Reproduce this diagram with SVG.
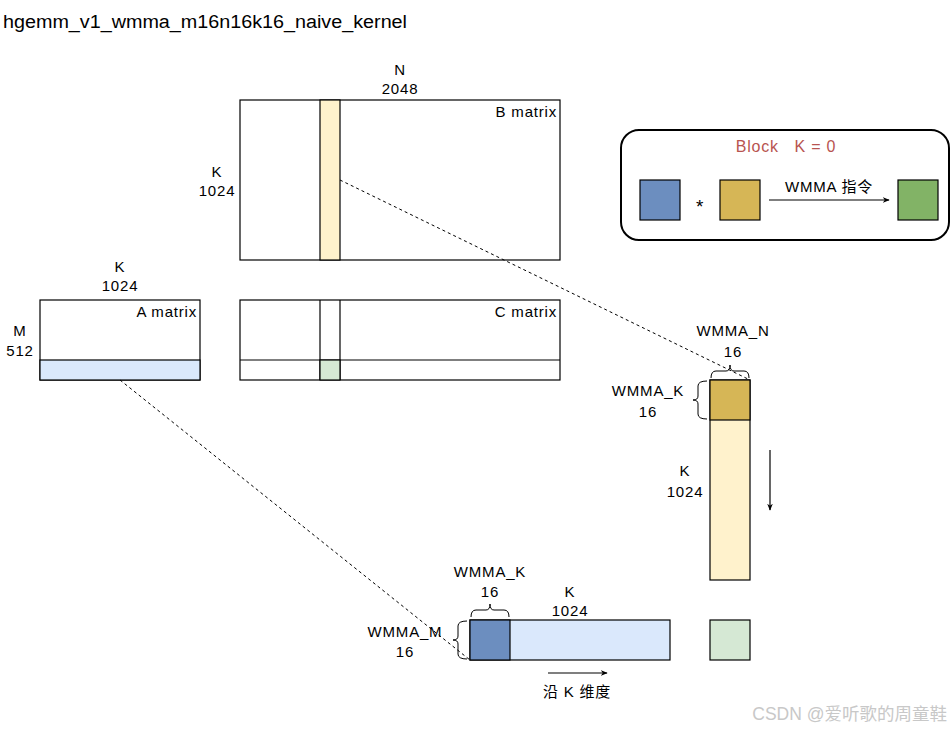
<svg xmlns="http://www.w3.org/2000/svg" width="952" height="731" viewBox="0 0 952 731">
<defs>
<marker id="ah" viewBox="0 0 10 10" refX="9" refY="5" markerWidth="7" markerHeight="7" orient="auto" markerUnits="userSpaceOnUse"><path d="M0,1 L10,5 L0,9 L3,5 Z" fill="#000"/></marker>
<style>
text{font-family:"Comic Sans MS","Liberation Sans","DejaVu Sans","Noto Sans CJK SC",sans-serif;font-size:15px;letter-spacing:0.8px;fill:#000}
.c{text-anchor:middle}
.r{text-anchor:end}
.box{stroke:#000;stroke-width:1.2}
.dash{fill:none;stroke:#000;stroke-width:1;stroke-dasharray:3 3}
.brace{fill:none;stroke:#000;stroke-width:1}
.ln{stroke:#000;stroke-width:1.2;fill:none}
</style>
</defs>
<rect width="952" height="731" fill="#fff"/>
<text x="3" y="28" style="font-size:18px;letter-spacing:0" textLength="404" lengthAdjust="spacingAndGlyphs">hgemm_v1_wmma_m16n16k16_naive_kernel</text>

<g id="B-matrix">
<rect class="box" x="240" y="100" width="320" height="160" fill="#fff"/>
<rect class="box" x="320" y="100" width="20" height="160" fill="#fff2cc"/>
<text class="r" x="557" y="117">B matrix</text>
<text class="c" x="400" y="75">N</text>
<text class="c" x="400" y="94">2048</text>
<text class="c" x="217" y="177">K</text>
<text class="c" x="217" y="196">1024</text>
</g>

<g id="A-matrix">
<rect class="box" x="40" y="300" width="160" height="80" fill="#fff"/>
<rect class="box" x="40" y="360" width="160" height="20" fill="#dae8fc"/>
<text class="r" x="197" y="317">A matrix</text>
<text class="c" x="120" y="272">K</text>
<text class="c" x="120" y="291">1024</text>
<text class="c" x="20" y="336">M</text>
<text class="c" x="20" y="356">512</text>
</g>

<g id="C-matrix">
<rect class="box" x="240" y="300" width="320" height="80" fill="#fff"/>
<line class="ln" x1="320" y1="300" x2="320" y2="380"/>
<line class="ln" x1="340" y1="300" x2="340" y2="380"/>
<line class="ln" x1="240" y1="360" x2="560" y2="360"/>
<rect class="box" x="320" y="360" width="20" height="20" fill="#d5e8d4"/>
<text class="r" x="557" y="317">C matrix</text>
</g>

<g id="block-legend">
<rect x="621" y="130" width="328" height="110" rx="18" ry="18" fill="#fff" stroke="#000" stroke-width="2"/>
<text class="c" x="786" y="152" style="fill:#b85450;font-size:16px" xml:space="preserve">Block   K = 0</text>
<rect class="box" x="640" y="180" width="40" height="40" fill="#6c8ebf"/>
<text class="c" x="700" y="213" style="font-size:19px">*</text>
<rect class="box" x="720" y="180" width="40" height="40" fill="#d6b656"/>
<line class="ln" x1="769" y1="200" x2="889" y2="200" marker-end="url(#ah)"/>
<text class="c" x="829" y="192">WMMA 指令</text>
<rect class="box" x="898" y="180" width="40" height="40" fill="#82b366"/>
</g>

<g id="B-tile">
<rect class="box" x="710" y="380" width="40" height="200" fill="#fff2cc"/>
<rect class="box" x="710" y="380" width="40" height="40" fill="#d6b656"/>
<path class="brace" d="M711,378 Q711,371 716,371 L726,371 Q730,371 730,365 Q730,371 734,371 L744,371 Q749,371 749,378"/>
<path class="brace" d="M707,381 Q698,381 698,386 L698,396 Q698,400 693,400 Q698,400 698,404 L698,414 Q698,419 707,419"/>
<text class="c" x="733" y="336">WMMA_N</text>
<text class="c" x="733" y="357">16</text>
<text class="c" x="648" y="396">WMMA_K</text>
<text class="c" x="648" y="417">16</text>
<text class="c" x="685" y="476">K</text>
<text class="c" x="685" y="497">1024</text>
<line class="ln" x1="770" y1="450" x2="770" y2="510" marker-end="url(#ah)"/>
</g>

<g id="A-tile">
<rect class="box" x="470" y="620" width="200" height="40" fill="#dae8fc"/>
<rect class="box" x="470" y="620" width="40" height="40" fill="#6c8ebf"/>
<path class="brace" d="M471,617 Q471,610 476,610 L486,610 Q490,610 490,604 Q490,610 494,610 L504,610 Q509,610 509,617"/>
<path class="brace" d="M467,621 Q458,621 458,626 L458,636 Q458,640 453,640 Q458,640 458,644 L458,654 Q458,659 467,659"/>
<text class="c" x="490" y="577">WMMA_K</text>
<text class="c" x="490" y="597">16</text>
<text class="c" x="570" y="597">K</text>
<text class="c" x="570" y="616">1024</text>
<text class="c" x="405" y="637">WMMA_M</text>
<text class="c" x="405" y="657">16</text>
<line class="ln" x1="548" y1="673" x2="607" y2="673" marker-end="url(#ah)"/>
<text class="c" x="577" y="697">沿 K 维度</text>
</g>

<g id="C-tile">
<rect class="box" x="710" y="620" width="40" height="40" fill="#d5e8d4"/>
</g>

<g id="connectors">
<line class="dash" x1="340" y1="180" x2="750" y2="380"/>
<line class="dash" x1="120" y1="380" x2="470" y2="660"/>
</g>

<text x="947" y="720" class="r" style="fill:#c8c8c8;font-size:17.5px;letter-spacing:0">CSDN @爱听歌的周童鞋</text>
</svg>
